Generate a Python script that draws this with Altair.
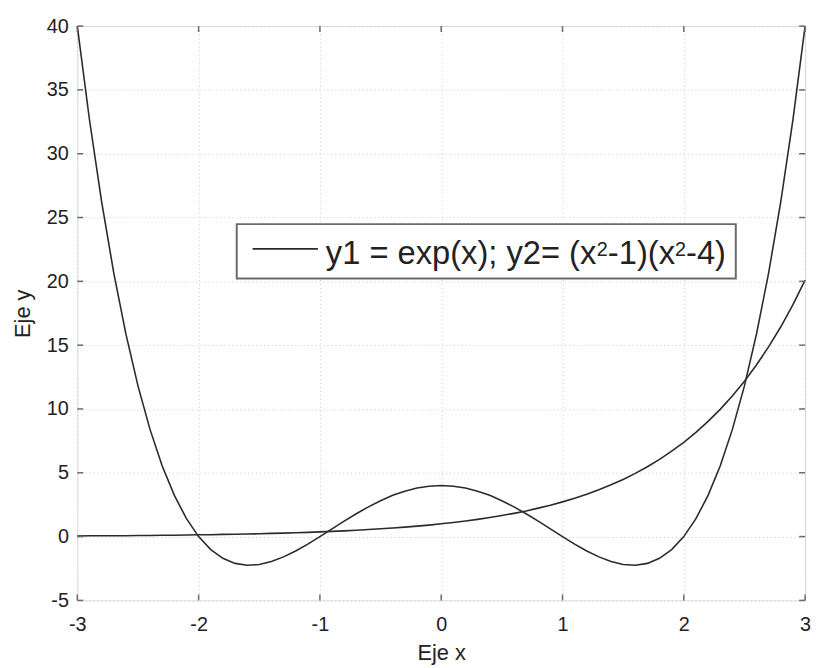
import altair as alt
import pandas as pd

# x samples and values
x_vals = [round(-3 + 0.1 * i, 1) for i in range(61)]
y1_vals = [0.05, 0.06, 0.06, 0.07, 0.07, 0.08, 0.09, 0.10, 0.11, 0.12,
           0.14, 0.15, 0.17, 0.18, 0.20, 0.22, 0.25, 0.27, 0.30, 0.33,
           0.37, 0.41, 0.45, 0.50, 0.55, 0.61, 0.67, 0.74, 0.82, 0.90,
           1.00, 1.11, 1.22, 1.35, 1.49, 1.65, 1.82, 2.01, 2.23, 2.46,
           2.72, 3.00, 3.32, 3.67, 4.06, 4.48, 4.95, 5.47, 6.05, 6.69,
           7.39, 8.17, 9.03, 9.97, 11.02, 12.18, 13.46, 14.88, 16.44, 18.17,
           20.09]
y2_vals = [40.0, 32.68, 26.27, 20.69, 15.90, 11.81, 8.38, 5.53, 3.23, 1.40,
           0.0, -1.02, -1.70, -2.10, -2.25, -2.19, -1.96, -1.59, -1.13, -0.59,
           0.0, 0.61, 1.21, 1.79, 2.33, 2.81, 3.23, 3.56, 3.80, 3.95,
           4.00, 3.95, 3.80, 3.56, 3.23, 2.81, 2.33, 1.79, 1.21, 0.61,
           0.0, -0.59, -1.13, -1.59, -1.96, -2.19, -2.25, -2.10, -1.70, -1.02,
           0.0, 1.40, 3.23, 5.53, 8.38, 11.81, 15.90, 20.69, 26.27, 32.68,
           40.0]
x_ticks = [-3, -2, -1, 0, 1, 2, 3]
y_ticks = [-5, 0, 5, 10, 15, 20, 25, 30, 35, 40]
# legend text pieces: normal, superscript, normal, superscript, normal
legend_parts = ["y1 = exp(x); y2= (x", "2", "-1)(x", "2", "-4)"]

W, H = 735, 580
FONT = "Liberation Sans"
LINE = "#2b2b2b"
AX = "#6a6a6a"

df = pd.DataFrame({"x": x_vals * 2,
                   "y": y1_vals + y2_vals,
                   "s": ["y1"] * len(x_vals) + ["y2"] * len(x_vals)})
xt = pd.DataFrame({"v": x_ticks})
yt = pd.DataFrame({"v": y_ticks})

xs = alt.Scale(domain=[-3, 3], nice=False)
ys = alt.Scale(domain=[-5, 40], nice=False)

common = dict(grid=True, gridDash=[1, 3], gridColor="#c8c8c8", domain=False,
              ticks=False, labelFontSize=20, titleFontSize=22,
              titleFontWeight="normal", labelColor="#222", titleColor="#222",
              labelFont=FONT, titleFont=FONT, labelFlush=False,
              labelExpr="'' + datum.value")
xaxis = alt.Axis(values=x_ticks, title="Eje x", labelPadding=14,
                 titlePadding=9, **common)
yaxis = alt.Axis(values=y_ticks, title="Eje y", labelPadding=9,
                 titlePadding=12, **common)

lines = alt.Chart(df).mark_line(color=LINE, strokeWidth=1.6).encode(
    x=alt.X("x:Q", scale=xs, axis=xaxis),
    y=alt.Y("y:Q", scale=ys, axis=yaxis),
    detail="s:N",
)

tb = alt.Chart(xt).mark_rule(color=AX, strokeWidth=1.5).encode(
    x=alt.X("v:Q", scale=xs), y=alt.value(H), y2=alt.value(H - 6))
tt = alt.Chart(xt).mark_rule(color=AX, strokeWidth=1.5).encode(
    x=alt.X("v:Q", scale=xs), y=alt.value(0), y2=alt.value(6))
tl = alt.Chart(yt).mark_rule(color=AX, strokeWidth=1.5).encode(
    y=alt.Y("v:Q", scale=ys), x=alt.value(0), x2=alt.value(6))
tr = alt.Chart(yt).mark_rule(color=AX, strokeWidth=1.5).encode(
    y=alt.Y("v:Q", scale=ys), x=alt.value(W), x2=alt.value(W - 6))

lg = pd.DataFrame({"p0": [legend_parts[0]], "p1": [legend_parts[1]],
                   "p2": [legend_parts[2]], "p3": [legend_parts[3]],
                   "p4": [legend_parts[4]]})
box = alt.Chart(lg).mark_rect(fill="white", stroke=AX, strokeWidth=2).encode(
    x=alt.value(161), x2=alt.value(665), y=alt.value(200), y2=alt.value(255))
sample = alt.Chart(lg).mark_rule(color=LINE, strokeWidth=1.6).encode(
    x=alt.value(177), x2=alt.value(243), y=alt.value(225))


def piece(field, xpos, ypos, size):
    return alt.Chart(lg).mark_text(align="left", baseline="alphabetic",
                                   fontSize=size, font=FONT,
                                   color="#222").encode(
        x=alt.value(xpos), y=alt.value(ypos), text=f"{field}:N")


texts = [piece("p0", 251, 240, 33), piece("p1", 524.5, 232, 20),
         piece("p2", 535.8, 240, 33), piece("p3", 603.6, 232, 20),
         piece("p4", 614.8, 240, 33)]

chart = alt.layer(lines, tb, tt, tl, tr, box, sample, *texts).properties(
    width=W, height=H,
    padding={"left": 70, "top": 15, "right": 9, "bottom": 65},
    autosize=alt.AutoSizeParams(type="none"),
).configure_view(stroke=AX, strokeWidth=2).configure(background="white")

chart.save("out.html", embed_options={"renderer": "svg", "actions": False})
